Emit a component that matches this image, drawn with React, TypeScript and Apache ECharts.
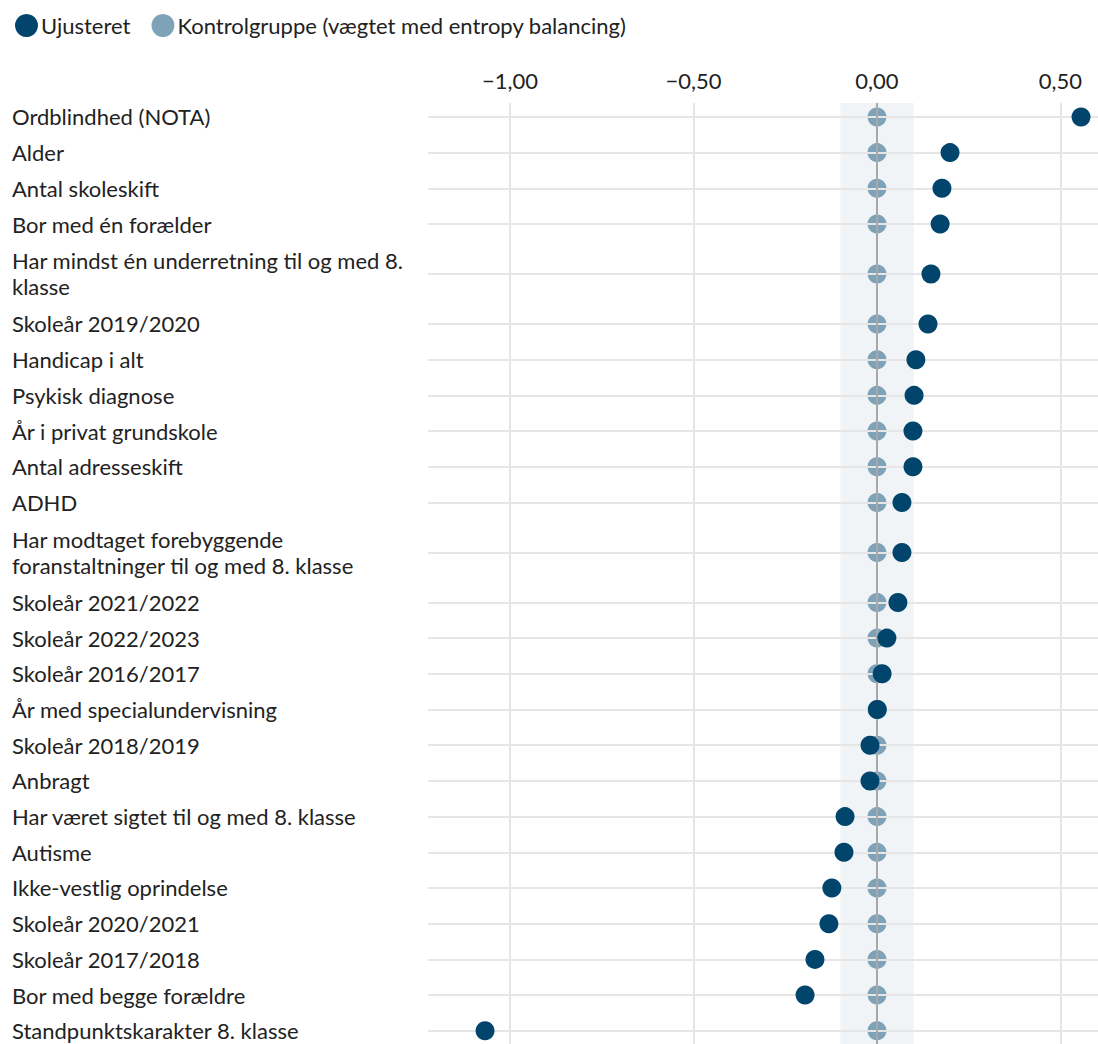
import React, { useEffect, useRef } from "react";
import * as echarts from "echarts";

const categories = [
  "Ordblindhed (NOTA)",
  "Alder",
  "Antal skoleskift",
  "Bor med én forælder",
  "Har mindst én underretning til og med 8.\nklasse",
  "Skoleår 2019/2020",
  "Handicap i alt",
  "Psykisk diagnose",
  "År i privat grundskole",
  "Antal adresseskift",
  "ADHD",
  "Har modtaget forebyggende\nforanstaltninger til og med 8. klasse",
  "Skoleår 2021/2022",
  "Skoleår 2022/2023",
  "Skoleår 2016/2017",
  "År med specialundervisning",
  "Skoleår 2018/2019",
  "Anbragt",
  "Har været sigtet til og med 8. klasse",
  "Autisme",
  "Ikke-vestlig oprindelse",
  "Skoleår 2020/2021",
  "Skoleår 2017/2018",
  "Bor med begge forældre",
  "Standpunktskarakter 8. klasse",
];

const unadjusted = [
  0.556, 0.199, 0.177, 0.172, 0.147, 0.139, 0.106, 0.101, 0.098, 0.098, 0.068,
  0.068, 0.057, 0.027, 0.014, 0.001, -0.019, -0.019, -0.087, -0.09, -0.123,
  -0.131, -0.169, -0.196, -1.068,
];

const control = [
  0, 0, 0, 0, 0, 0, 0, 0, 0, 0, 0, 0, 0, 0, 0, 0, 0, 0, 0, 0, 0, 0, 0, 0, 0,
];

const xTicks = [-1, -0.5, 0, 0.5];
const seriesNames = ["Ujusteret", "Kontrolgruppe (vægtet med entropy balancing)"];

const DARK = "#01456d";
const LIGHT = "#7ea3b8";
const FONT = "Lato, 'Open Sans', sans-serif";

export default function App() {
  const ref = useRef<HTMLDivElement>(null);

  useEffect(() => {
    if (!ref.current) return;
    const chart = echarts.init(ref.current, undefined, { renderer: "svg" });

    // row layout: multi-line labels get taller rows
    const heights = categories.map((c) => 1 + 0.8 * (c.split("\n").length - 1));
    const centers: number[] = [];
    let acc = 0;
    heights.forEach((h) => {
      centers.push(acc + h / 2);
      acc += h;
    });
    const labelByPos = new Map<string, string>();
    centers.forEach((p, i) => labelByPos.set(p.toFixed(4), categories[i]));

    const fmtX = (v: number) =>
      (v < 0 ? "\u2212" : "") + Math.abs(v).toFixed(2).replace(".", ",");

    const controlData = control.map((v, i) => [v, centers[i]]);
    const unadjData = unadjusted.map((v, i) => [v, centers[i]]);

    chart.setOption({
      animation: false,
      textStyle: { fontFamily: FONT },
      legend: {
        data: seriesNames,
        left: 10,
        top: 9,
        icon: "circle",
        itemWidth: 23,
        itemHeight: 23,
        itemGap: 21,
        textStyle: { fontSize: 22, color: "#222", fontFamily: FONT, padding: [0, 0, 0, -2] },
      },
      grid: {
        left: 428,
        right: 0,
        top: 103,
        bottom: 0,
        containLabel: false,
        outerBoundsMode: "none",
      },
      xAxis: {
        type: "value",
        position: "top",
        min: -1.2234,
        max: 0.6022,
        axisLine: { show: false },
        axisTick: { show: false },
        splitLine: { show: false },
        axisLabel: {
          customValues: xTicks,
          formatter: (v: number) => fmtX(v),
          fontSize: 22,
          color: "#222",
          margin: 12,
          fontFamily: FONT,
        },
      },
      yAxis: {
        type: "value",
        inverse: true,
        min: centers[0] - 0.39,
        max: centers[centers.length - 1] + 0.37,
        axisLine: { show: false },
        axisTick: { show: false },
        splitLine: { show: false },
        axisLabel: {
          customValues: centers,
          formatter: (v: number) => labelByPos.get(v.toFixed(4)) || "",
          align: "left",
          margin: 416,
          fontSize: 22,
          lineHeight: 26,
          color: "#222",
          fontFamily: FONT,
        },
      },
      series: [
        {
          name: "grid",
          type: "scatter",
          z: 1,
          symbolSize: 0,
          silent: true,
          data: controlData,
          markLine: {
            silent: true,
            symbol: "none",
            label: { show: false },
            lineStyle: { color: "#e6e6e6", width: 2, type: "solid" },
            data: [
              ...centers.map((c) => ({ yAxis: c })),
              ...xTicks.filter((t) => t !== 0).map((t) => ({ xAxis: t })),
            ],
          },
        },
        {
          name: "band",
          type: "scatter",
          z: 2,
          symbolSize: 0,
          silent: true,
          data: controlData,
          markArea: {
            silent: true,
            itemStyle: { color: "#f1f4f7" },
            data: [[{ xAxis: -0.1 }, { xAxis: 0.1 }]],
          },
        },
        {
          name: "zero",
          type: "scatter",
          z: 3,
          symbolSize: 0,
          silent: true,
          data: controlData,
          markLine: {
            silent: true,
            symbol: "none",
            label: { show: false },
            lineStyle: { color: "#a8a8a8", width: 2, type: "solid" },
            data: [{ xAxis: 0 }],
          },
        },
        {
          name: seriesNames[1],
          type: "scatter",
          z: 4,
          symbol: "circle",
          symbolSize: 19,
          itemStyle: { color: LIGHT, opacity: 1 },
          data: controlData,
        },
        {
          name: seriesNames[0],
          type: "scatter",
          z: 5,
          symbol: "circle",
          symbolSize: 19,
          itemStyle: { color: DARK, opacity: 1 },
          data: unadjData,
        },
      ],
    });

    return () => chart.dispose();
  }, []);

  return (
    <div
      ref={ref}
      style={{ position: "absolute", left: 0, top: 0, width: 1098, height: 1044, background: "#fff" }}
    />
  );
}
